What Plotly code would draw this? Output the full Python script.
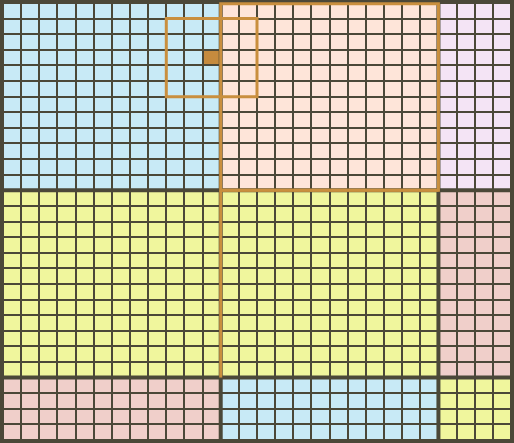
import plotly.graph_objects as go

# grid partition (number of cells in each band)
col_bands = [12, 12, 4]
row_bands = [12, 12, 4]

# region category per (row band, col band)
region_layout = [
    ["blue", "peach", "lavender"],
    ["yellow", "yellow", "pink"],
    ["pink", "blue", "yellow"],
]
categories = ["blue", "peach", "lavender", "yellow", "pink"]
category_colors = ["#c8eaf6", "#fee5d9", "#f4e4f5", "#f0f69d", "#f0cfca"]

# highlighted window (cols, rows) and selected cell
highlight_cols = [9, 13]
highlight_rows = [1, 5]
selected_cell = [11, 3]

BG = "#4b4838"
ORANGE = "#c98f3e"

ncols = sum(col_bands)
nrows = sum(row_bands)


def band_of(i, bands):
    s = 0
    for k, b in enumerate(bands):
        s += b
        if i < s:
            return k
    return len(bands) - 1


z = []
for r in range(nrows):
    row = []
    for c in range(ncols):
        cat = region_layout[band_of(r, row_bands)][band_of(c, col_bands)]
        row.append(categories.index(cat))
    z.append(row)

n = len(categories)
colorscale = []
for i, col in enumerate(category_colors):
    colorscale.append([i / n, col])
    colorscale.append([(i + 1) / n, col])

fig = go.Figure()
fig.add_trace(go.Heatmap(
    z=z, x=list(range(ncols)), y=list(range(nrows)),
    colorscale=colorscale, zmin=-0.5, zmax=n - 0.5,
    showscale=False, xgap=2, ygap=2, hoverinfo="skip",
))

# selected cell
zsel = [[None] * ncols for _ in range(nrows)]
zsel[selected_cell[1]][selected_cell[0]] = 1
fig.add_trace(go.Heatmap(
    z=zsel, x=list(range(ncols)), y=list(range(nrows)),
    colorscale=[[0, "#c68b3e"], [1, "#c68b3e"]], showscale=False,
    xgap=2, ygap=2, hoverinfo="skip",
))

shapes = []
# band boundaries (thick dark lines)
cb = [-0.5]
for b in col_bands:
    cb.append(cb[-1] + b)
rb = [-0.5]
for b in row_bands:
    rb.append(rb[-1] + b)
for x in cb[1:-1]:
    shapes.append(dict(type="line", x0=x, x1=x, y0=rb[0], y1=rb[-1],
                       line=dict(color=BG, width=4)))
for y in rb[1:-1]:
    shapes.append(dict(type="line", x0=cb[0], x1=cb[-1], y0=y, y1=y,
                       line=dict(color=BG, width=4)))

# orange outline of peach region
shapes.append(dict(type="rect", x0=cb[1], x1=cb[2], y0=rb[0] + 0.05, y1=rb[1],
                   line=dict(color=ORANGE, width=3)))
# orange top/left edges of middle-right yellow region
shapes.append(dict(type="line", x0=cb[1], x1=cb[2], y0=rb[1], y1=rb[1],
                   line=dict(color=ORANGE, width=3)))
shapes.append(dict(type="line", x0=cb[1], x1=cb[1], y0=rb[1], y1=rb[2],
                   line=dict(color=ORANGE, width=3)))

# highlight window
shapes.append(dict(type="rect",
                   x0=highlight_cols[0] - 0.5, x1=highlight_cols[1] + 0.5,
                   y0=highlight_rows[0] - 0.5, y1=highlight_rows[1] + 0.5,
                   line=dict(color=ORANGE, width=3)))

pad_x = 3 / 18.14
pad_y = 3 / 15.61
fig.update_layout(
    width=514, height=443,
    margin=dict(l=0, r=0, t=0, b=0),
    paper_bgcolor=BG, plot_bgcolor=BG,
    shapes=shapes,
    xaxis=dict(range=[-0.5 - pad_x, ncols - 0.5 + pad_x], visible=False,
               fixedrange=True),
    yaxis=dict(range=[nrows - 0.5 + pad_y, -0.5 - pad_y], visible=False,
               fixedrange=True),
    showlegend=False,
)
fig.write_html(
    "out.html",
    config={"displayModeBar": False},
    post_script="document.body.style.margin='0';document.body.style.overflow='hidden';",
)
